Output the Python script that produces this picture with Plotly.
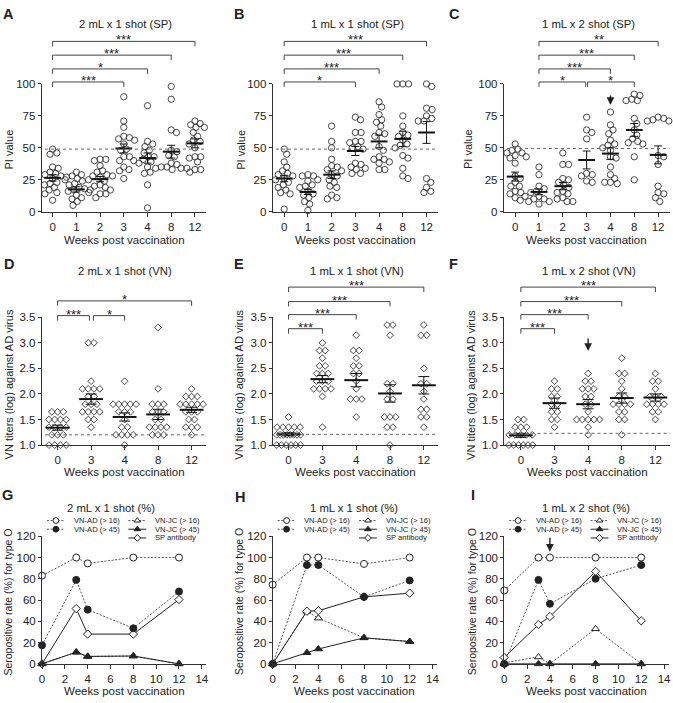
import math
import plotly.graph_objects as go

W, H = 673, 703
FONT = "Liberation Sans, Arial, Helvetica, sans-serif"
INK = "#222222"
AXIS = "#333333"

# ---------------------------------------------------------------- data
SP_WEEK_LABELS = ["0", "1", "2", "3", "4", "8", "12"]
VN_WEEK_LABELS = ["0", "3", "4", "8", "12"]
LINE_WEEKS = [0, 3, 4, 8, 12]

# Panel A: 2 mL x 1 shot (SP), PI values per week
A_W0 = [49, 46, 45, 35, 34, 31, 30, 29, 28, 27, 26, 25, 23, 22, 21, 19, 17, 15, 14, 9]
A_W1 = [31, 29, 28, 27, 26, 24, 22, 21, 19, 18, 17, 16, 15, 13, 11, 10, 8, 5]
A_W2 = [41, 41, 40, 36, 32, 31, 29, 28, 28, 27, 25, 24, 21, 20, 19, 17, 17, 14, 14, 11]
A_W3 = [90, 71, 66, 59, 58, 57, 56, 53, 49, 48, 43, 43, 40, 40, 35, 33, 32, 26]
A_W4 = [83, 55, 53, 51, 48, 46, 43, 43, 41, 39, 38, 35, 31, 30, 21, 3]
A_W8 = [98, 88, 64, 62, 48, 47, 44, 43, 38, 37, 35, 35, 34, 34, 34, 33]
A_W12 = [71, 69, 68, 66, 66, 62, 59, 56, 55, 53, 50, 43, 43, 42, 39, 33, 33, 31]
A_MEAN = [26.5, 17.5, 25.5, 49.5, 42, 47, 53.5]
A_SEM = [2.5, 2, 2, 3.5, 4, 5, 3.5]

# Panel B: 1 mL x 1 shot (SP)
B_W0 = [49, 45, 39, 35, 32, 30, 29, 28, 26, 25, 23, 21, 19, 17, 15, 14, 2]
B_W1 = [29, 28, 28, 25, 24, 21, 20, 19, 16, 14, 13, 11, 8, 6, 1]
B_W2 = [67, 55, 50, 41, 36, 35, 33, 32, 29, 28, 25, 23, 20, 19, 13, 11, 10]
B_W3 = [74, 72, 62, 62, 55, 55, 54, 51, 50, 49, 38, 37, 35, 34, 33, 30, 30]
B_W4 = [86, 82, 76, 72, 70, 67, 62, 61, 59, 51, 48, 43, 41, 41, 39, 38, 33, 33]
B_W8 = [100, 100, 100, 75, 67, 62, 60, 59, 56, 53, 52, 50, 44, 42, 34, 28, 26]
B_W12 = [100, 98, 81, 80, 75, 73, 71, 71, 26, 23, 19, 16, 15]
B_MEAN = [26, 15.5, 29, 47.5, 55, 57, 62]
B_SEM = [2.5, 2, 3, 3.5, 5, 6, 8.5]

# Panel C: 1 mL x 2 shot (SP)
C_W0 = [53, 49, 48, 46, 46, 44, 43, 42, 38, 28, 26, 23, 20, 20, 16, 15, 14, 12, 11, 9]
C_W1 = [35, 29, 20, 18, 16, 15, 12, 10, 10, 8, 8, 6]
C_W2 = [46, 37, 37, 26, 25, 23, 21, 19, 16, 15, 14, 11, 10, 8, 8]
C_W3 = [74, 64, 62, 57, 30, 29, 28, 24, 23]
C_W4 = [78, 68, 64, 61, 56, 53, 52, 50, 48, 43, 42, 35, 29, 26, 23, 23, 22]
C_W8 = [92, 91, 88, 87, 87, 73, 69, 64, 60, 57, 55, 54, 53, 43, 25]
C_W12 = [74, 73, 72, 71, 71, 44, 43, 37, 20, 15, 14, 11, 8]
C_MEAN = [27.5, 15.5, 20, 40.5, 45.5, 64, 44.5]
C_SEM = [3.5, 2.2, 2.8, 7, 4.5, 5, 7]

# Panel D: 2 mL x 1 shot (VN), log titers
D_W0 = [1.65, 1.65, 1.65, 1.5, 1.5, 1.5, 1.5, 1.35, 1.35, 1.35, 1.35, 1.2, 1.2, 1.2, 1.0, 1.0, 1.0, 1.0]
D_W3 = [3.0, 3.0, 2.25, 2.1, 2.1, 2.1, 2.1, 1.95, 1.95, 1.8, 1.8, 1.8, 1.65, 1.65, 1.65, 1.65, 1.5, 1.5, 1.35]
D_W4 = [2.25, 1.8, 1.8, 1.8, 1.8, 1.8, 1.65, 1.65, 1.65, 1.5, 1.35, 1.35, 1.2, 1.2, 1.2, 1.2, 1.0]
D_W8 = [3.3, 2.1, 1.8, 1.8, 1.8, 1.65, 1.65, 1.65, 1.5, 1.5, 1.35, 1.35, 1.35, 1.35, 1.2, 1.2, 1.2]
D_W12 = [2.1, 1.95, 1.95, 1.95, 1.8, 1.8, 1.8, 1.8, 1.8, 1.65, 1.65, 1.65, 1.5, 1.5, 1.35, 1.35, 1.35, 1.2]
D_MEAN = [1.34, 1.9, 1.55, 1.6, 1.69]
D_SEM = [0.05, 0.1, 0.08, 0.1, 0.05]

# Panel E: 1 mL x 1 shot (VN)
E_W0 = [1.55, 1.35, 1.35, 1.35, 1.35, 1.35, 1.2, 1.2, 1.2, 1.2, 1.2, 1.2, 1.2, 1.2, 1.0, 1.0, 1.0, 1.0, 1.0, 1.0]
E_W3 = [3.0, 2.85, 2.85, 2.7, 2.55, 2.55, 2.4, 2.4, 2.4, 2.25, 2.25, 2.25, 2.1, 2.1, 2.1, 2.1, 1.95, 1.35]
E_W4 = [3.15, 2.85, 2.85, 2.7, 2.55, 2.55, 2.4, 2.4, 2.25, 2.1, 1.9, 1.9, 1.9, 1.55]
E_W8 = [3.35, 3.35, 3.15, 2.2, 2.2, 2.05, 1.9, 1.9, 1.55, 1.55, 1.55, 1.35, 1.35, 1.0]
E_W12 = [3.35, 3.15, 3.15, 2.5, 2.2, 2.2, 2.05, 1.9, 1.7, 1.7, 1.55, 1.55, 1.35]
E_MEAN = [1.21, 2.29, 2.27, 2.01, 2.17]
E_SEM = [0.03, 0.07, 0.13, 0.17, 0.17]

# Panel F: 1 mL x 2 shot (VN)
F_W0 = [1.5, 1.5, 1.35, 1.35, 1.35, 1.2, 1.2, 1.2, 1.2, 1.2, 1.0, 1.0, 1.0, 1.0, 1.0, 1.0]
F_W3 = [2.25, 2.1, 2.1, 1.95, 1.95, 1.8, 1.8, 1.65, 1.65, 1.5, 1.5, 1.35]
F_W4 = [2.4, 2.25, 2.25, 2.1, 2.1, 2.1, 1.95, 1.95, 1.8, 1.8, 1.65, 1.5, 1.5, 1.5, 1.5, 1.5, 1.35, 1.2]
F_W8 = [2.7, 2.4, 2.4, 2.25, 2.1, 1.95, 1.95, 1.8, 1.8, 1.8, 1.8, 1.65, 1.65, 1.5, 1.5, 1.2]
F_W12 = [2.4, 2.25, 2.25, 2.1, 1.95, 1.95, 1.95, 1.8, 1.8, 1.8, 1.8, 1.65, 1.65, 1.5]
F_MEAN = [1.19, 1.82, 1.8, 1.92, 1.93]
F_SEM = [0.04, 0.1, 0.09, 0.1, 0.07]

# Panels G-I: seropositive rate (%) for type O
G_AD16 = [83, 100, 94.5, 100, 100]
G_AD45 = [17.5, 79, 51, 33.5, 68]
G_JC16 = [0, 11, 7, 7.4, 0]
G_JC45 = [0, 11, 7, 7.4, 0]
G_SP = [0, 52, 28, 28, 60.5]

H_AD16 = [74.5, 100, 100, 94, 100]
H_AD45 = [0, 93, 93, 63, 78.5]
H_JC16 = [0, 49.5, 43, 24.5, 21]
H_JC45 = [0, 10.5, 14, 24.5, 21]
H_SP = [0, 49.5, 50, 63, 66.5]

I_AD16 = [69, 100, 100, 100, 100]
I_AD45 = [0, 79, 56.5, 80, 93]
I_JC16 = [1, 6.5, 0, 33, 0]
I_JC45 = [0, 0, 0, 0, 0]
I_SP = [6, 37, 44.5, 87, 40.5]

SERIES_NAMES = {"AD16": "VN-AD (> 16)", "AD45": "VN-AD (> 45)",
                "JC16": "VN-JC (> 16)", "JC45": "VN-JC (> 45)",
                "SP": "SP antibody"}

# ---------------------------------------------------------------- geometry / style
def px_x(px):
    return px / W


def px_y(py):
    return 1 - py / H


PANELS = [
    dict(letter="A", kind="sp", title="2 mL x 1 shot (SP)",
         groups=[A_W0, A_W1, A_W2, A_W3, A_W4, A_W8, A_W12], mean=A_MEAN, sem=A_SEM,
         xpx=(39, 205), ypx=(79.3, 209.3), xr=(-0.46, 6.485), yr=(0, 100),
         title_at=(123, 18), letter_at=(6, 8), ytitle_at=(6, 146), xtitle_y=238,
         thr=49, brackets=[(0, 3, 77.3, "***"), (0, 4, 64, "*"), (0, 5, 50, "***"), (0, 6, 36, "***")],
         arrow=None),
    dict(letter="B", kind="sp", title="1 mL x 1 shot (SP)",
         groups=[B_W0, B_W1, B_W2, B_W3, B_W4, B_W8, B_W12], mean=B_MEAN, sem=B_SEM,
         xpx=(271.7, 438), xr=(-0.485, 6.473), yr=(0, 100), ypx=(79.3, 209.3),
         title_at=(356.7, 18), letter_at=(238, 8), ytitle_at=(239, 146), xtitle_y=238,
         thr=49, brackets=[(0, 3, 77.3, "*"), (0, 4, 64, "***"), (0, 5, 50, "***"), (0, 6, 36, "***")],
         arrow=None),
    dict(letter="C", kind="sp", title="1 mL x 2 shot (SP)",
         groups=[C_W0, C_W1, C_W2, C_W3, C_W4, C_W8, C_W12], mean=C_MEAN, sem=C_SEM,
         xpx=(504.5, 671.5), xr=(-0.479, 6.479), yr=(0, 100), ypx=(79.3, 209.3),
         title_at=(590, 18), letter_at=(455, 8), ytitle_at=(468, 146), xtitle_y=238,
         thr=49.5, brackets=[(1, 2.96, 77.3, "*"), (3.04, 5, 77.3, "*"), (1, 4, 64, "***"),
                             (1, 5, 50, "***"), (1, 6, 36, "**")],
         arrow=(4, 83.5, 11)),
    dict(letter="D", kind="vn", title="2 mL x 1 shot (VN)",
         groups=[D_W0, D_W3, D_W4, D_W8, D_W12], mean=D_MEAN, sem=D_SEM,
         xpx=(39, 205), ypx=(316.7, 446.7), xr=(-0.474, 4.444), yr=(1, 3.5),
         title_at=(123, 270), letter_at=(6, 262), ytitle_at=(6, 385), xtitle_y=474,
         thr=1.2, brackets=[(0, 0.95, 315, "***"), (1.07, 2, 315, "*"), (0, 4, 300, "*")],
         arrow=None),
    dict(letter="E", kind="vn", title="1 mL x 1 shot (VN)",
         groups=[E_W0, E_W3, E_W4, E_W8, E_W12], mean=E_MEAN, sem=E_SEM,
         xpx=(271.7, 438.3), ypx=(316.7, 446.7), xr=(-0.47, 4.42), yr=(1, 3.5),
         title_at=(356.7, 270), letter_at=(238, 262), ytitle_at=(238, 385), xtitle_y=474,
         thr=1.21, brackets=[(0, 1, 328.3, "***"), (0, 2, 314, "***"), (0, 3, 300.7, "***"), (0, 4, 286, "***")],
         arrow=None),
    dict(letter="F", kind="vn", title="1 mL x 2 shot (VN)",
         groups=[F_W0, F_W3, F_W4, F_W8, F_W12], mean=F_MEAN, sem=F_SEM,
         xpx=(505, 672), ypx=(316.7, 446.7), xr=(-0.493, 4.434), yr=(1, 3.5),
         title_at=(590, 270), letter_at=(454, 262), ytitle_at=(472, 385), xtitle_y=474,
         thr=1.23, brackets=[(0, 1, 328.3, "***"), (0, 2, 314, "***"), (0, 3, 300.7, "***"), (0, 4, 286, "***")],
         arrow=(2, 2.84, 14)),
    dict(letter="G", kind="line", title="2 mL x 1 shot (%)",
         series=dict(AD16=G_AD16, AD45=G_AD45, JC16=G_JC16, JC45=G_JC45, SP=G_SP),
         xpx=(39.3, 204.9), ypx=(539.5, 669.3), xr=(0, 14.4), yr=(0, 120),
         title_at=(109, 510.5), letter_at=(5, 497), ytitle_at=(5, 606), xtitle_y=697,
         arrow=None),
    dict(letter="H", kind="line", title="1 mL x 1 shot (%)",
         series=dict(AD16=H_AD16, AD45=H_AD45, JC16=H_JC16, JC45=H_JC45, SP=H_SP),
         xpx=(271.7, 437.3), ypx=(539.5, 669.3), xr=(0, 14.4), yr=(0, 120),
         title_at=(354, 510.7), letter_at=(239, 500), ytitle_at=(237, 606), xtitle_y=697,
         arrow=None),
    dict(letter="I", kind="line", title="1 mL x 2 shot (%)",
         series=dict(AD16=I_AD16, AD45=I_AD45, JC16=I_JC16, JC45=I_JC45, SP=I_SP),
         xpx=(505, 670.6), ypx=(539.5, 669.3), xr=(0, 14.4), yr=(0, 120),
         title_at=(587, 510.7), letter_at=(474, 498), ytitle_at=(472, 606), xtitle_y=697,
         arrow=(4, 105.5, 15.5)),
]

YTITLES = {"sp": "PI value", "vn": "VN titers (log) against AD virus",
           "line": "Seropositive rate (%) for type O"}

LINE_STYLE = {
    "AD16": dict(symbol="circle", fill="white", dash="2px,1.6px", lc="#555555", size=7),
    "AD45": dict(symbol="circle", fill=INK, dash="2px,1.6px", lc="#555555", size=7),
    "JC16": dict(symbol="triangle-up", fill="white", dash="2px,1.6px", lc="#555555", size=7),
    "JC45": dict(symbol="triangle-up", fill=INK, dash="solid", lc=INK, size=7),
    "SP": dict(symbol="diamond", fill="white", dash="solid", lc=INK, size=6.4),
}
DRAW_ORDER = ["JC16", "AD16", "SP", "AD45", "JC45"]
LEGEND_POS = {"AD16": (0, 0), "AD45": (0, 1), "JC16": (1, 0), "JC45": (1, 1), "SP": (1, 2)}
LEGEND_ROWS_PX = (523.5, 532.3, 541.2)
LEGEND_COLS_OFF = (14, 96)


def swarm_offsets(vals, yppu, d):
    """Deterministic beeswarm: pixel x offsets so markers do not overlap."""
    offs = [0.0] * len(vals)
    placed = []
    order = sorted(range(len(vals)), key=lambda i: -vals[i])
    for i in order:
        y = vals[i] * yppu
        cands = [0.0]
        for (ox, oy) in placed:
            dy = abs(y - oy)
            if dy < d:
                dx = math.sqrt(d * d - dy * dy)
                cands += [ox + dx, ox - dx]
        cands.sort(key=lambda c: (round(abs(c), 3), -c))
        for c in cands:
            if all((c - ox) ** 2 + (y - oy) ** 2 >= d * d - 1e-6 for ox, oy in placed):
                offs[i] = c
                break
        placed.append((offs[i], y))
    return offs


def row_offsets(vals, gap, maxw):
    groups = {}
    for i, v in enumerate(vals):
        groups.setdefault(round(v, 3), []).append(i)
    offs = [0.0] * len(vals)
    for idxs in groups.values():
        n = len(idxs)
        s = gap if n < 2 else min(gap, maxw / (n - 1))
        for k, i in enumerate(idxs):
            offs[i] = (k - (n - 1) / 2) * s
    return offs


fig = go.Figure()
layout = {}
shapes = []
annots = []


def text_ann(x, y, text, size=11, bold=False, xanchor="center", yanchor="middle", angle=0):
    annots.append(dict(x=px_x(x), y=px_y(y), xref="paper", yref="paper", text=text,
                       showarrow=False, xanchor=xanchor, yanchor=yanchor, textangle=angle,
                       font=dict(family=FONT, size=size, color=INK,
                                 weight="bold" if bold else "normal")))


for n, p in enumerate(PANELS, start=1):
    xa = "x" if n == 1 else "x%d" % n
    ya = "y" if n == 1 else "y%d" % n
    xdom = [px_x(p["xpx"][0]), px_x(p["xpx"][1])]
    ydom = [px_y(p["ypx"][1]), px_y(p["ypx"][0])]
    xppu = (p["xpx"][1] - p["xpx"][0]) / (p["xr"][1] - p["xr"][0])
    yppu = (p["ypx"][1] - p["ypx"][0]) / (p["yr"][1] - p["yr"][0])
    common = dict(showline=True, linecolor=AXIS, linewidth=1, ticks="outside", tickcolor=AXIS,
                  tickwidth=1, showgrid=False, zeroline=False, fixedrange=True,
                  tickfont=dict(family=FONT, size=11.5, color=INK))
    xax = dict(common, domain=xdom, range=list(p["xr"]), anchor=ya, ticklen=4)
    yax = dict(common, domain=ydom, range=list(p["yr"]), anchor=xa, ticklen=3)

    if p["kind"] in ("sp", "vn"):
        labels = SP_WEEK_LABELS if p["kind"] == "sp" else VN_WEEK_LABELS
        xax.update(tickmode="array", tickvals=list(range(len(labels))), ticktext=labels)
        if p["kind"] == "sp":
            yax.update(tickmode="array", tickvals=[0, 25, 50, 75, 100])
            sym, msize = "circle-open", 6.3
        else:
            yax.update(tickmode="linear", tick0=1, dtick=0.5, tickformat=".1f")
            sym, msize = "diamond-open", 5.2
        for gi, vals in enumerate(p["groups"]):
            if p["kind"] == "sp":
                offs = swarm_offsets(vals, yppu, 5.8)
            else:
                offs = row_offsets(vals, 5.8, 24)
            fig.add_trace(go.Scatter(
                x=[gi + o / xppu for o in offs], y=vals, xaxis=xa, yaxis=ya, mode="markers",
                cliponaxis=False, hoverinfo="skip",
                marker=dict(symbol=sym, size=msize, color="#333333", line=dict(width=0.9, color="#333333"))))
        fig.add_trace(go.Scatter(
            x=list(range(len(p["mean"]))), y=p["mean"], xaxis=xa, yaxis=ya, mode="markers",
            cliponaxis=False, hoverinfo="skip",
            error_y=dict(type="data", array=p["sem"], visible=True, thickness=1,
                         width=4 if p["kind"] == "sp" else 5.5, color="#111111"),
            marker=dict(symbol="line-ew", size=12 if p["kind"] == "sp" else 17,
                        color="#111111", line=dict(width=2, color="#111111"))))
        # threshold dotted line
        shapes.append(dict(type="line", xref=xa + " domain", yref=ya, x0=0.02, x1=1,
                           y0=p["thr"], y1=p["thr"], line=dict(color="#666666", width=1, dash="dot")))
        # significance brackets
        for (i0, i1, ypix, stars) in p["brackets"]:
            yl, yleg = px_y(ypix), px_y(ypix + 5)
            shapes.append(dict(type="path", xref=xa, yref="paper",
                               path="M %g,%g L %g,%g L %g,%g L %g,%g" % (i0, yleg, i0, yl, i1, yl, i1, yleg),
                               line=dict(color="#444444", width=1)))
            annots.append(dict(x=(i0 + i1) / 2, y=px_y(ypix - 1.5), xref=xa, yref="paper", text=stars,
                               showarrow=False, xanchor="center", yanchor="middle",
                               font=dict(family=FONT, size=13, color=INK)))
    else:
        xax.update(tickmode="linear", tick0=0, dtick=2)
        yax.update(tickmode="linear", tick0=0, dtick=20)
        for key in DRAW_ORDER:
            st = LINE_STYLE[key]
            fig.add_trace(go.Scatter(
                x=LINE_WEEKS, y=p["series"][key], xaxis=xa, yaxis=ya, mode="lines+markers",
                cliponaxis=False, hoverinfo="skip", name=SERIES_NAMES[key],
                line=dict(color=st["lc"], width=1, dash=st["dash"]),
                marker=dict(symbol=st["symbol"], size=st["size"], color=st["fill"],
                            line=dict(width=1, color=INK))))

    if p["arrow"] is not None:
        ax_x, ax_y, alen = p["arrow"]
        annots.append(dict(x=ax_x, y=ax_y, xref=xa, yref=ya, ax=0, ay=-alen, axref="pixel",
                           ayref="pixel", text="", showarrow=True, arrowhead=2, arrowsize=1.1,
                           arrowwidth=1.4, arrowcolor=INK, standoff=0))

    layout["xaxis" if n == 1 else "xaxis%d" % n] = xax
    layout["yaxis" if n == 1 else "yaxis%d" % n] = yax

    # texts
    text_ann(p["title_at"][0], p["title_at"][1], p["title"], size=11.3)
    text_ann(p["letter_at"][0], p["letter_at"][1], p["letter"], size=14.5, bold=True)
    text_ann(p["ytitle_at"][0], p["ytitle_at"][1], YTITLES[p["kind"]],
             size=10.5 if p["kind"] == "line" else 11, angle=-90)
    text_ann((p["xpx"][0] + p["xpx"][1]) / 2, p["xtitle_y"], "Weeks post vaccination", size=11.5)

# legend for the seropositive-rate panels, drawn on a full-figure pixel canvas axis
CANVAS = len(PANELS) + 1
cx, cy = "x%d" % CANVAS, "y%d" % CANVAS
layout["xaxis%d" % CANVAS] = dict(domain=[0, 1], range=[0, W], anchor=cy, visible=False, fixedrange=True)
layout["yaxis%d" % CANVAS] = dict(domain=[0, 1], range=[H, 0], anchor=cx, visible=False, fixedrange=True)
for p in PANELS:
    if p["kind"] != "line":
        continue
    x0 = p["xpx"][0]
    for key in DRAW_ORDER:
        st = LINE_STYLE[key]
        col, row = LEGEND_POS[key]
        mx = x0 + LEGEND_COLS_OFF[col]
        my = LEGEND_ROWS_PX[row]
        fig.add_trace(go.Scatter(
            x=[mx - 9, mx + 9], y=[my, my], xaxis=cx, yaxis=cy, mode="lines", hoverinfo="skip",
            line=dict(color=st["lc"], width=1, dash=st["dash"])))
        fig.add_trace(go.Scatter(
            x=[mx], y=[my], xaxis=cx, yaxis=cy, mode="markers", hoverinfo="skip",
            marker=dict(symbol=st["symbol"], size=st["size"] - 1.2, color=st["fill"],
                        line=dict(width=1, color=INK))))
        annots.append(dict(x=px_x(mx + 16), y=px_y(my), xref="paper", yref="paper",
                           text=SERIES_NAMES[key], showarrow=False, xanchor="left", yanchor="middle",
                           font=dict(family=FONT, size=7.6, color=INK)))

fig.update_layout(
    width=W, height=H, margin=dict(l=0, r=0, t=0, b=0),
    paper_bgcolor="white", plot_bgcolor="rgba(0,0,0,0)",
    showlegend=False, font=dict(family=FONT, color=INK),
    shapes=shapes, annotations=annots, **layout)

fig.write_html("out.html", config={"displayModeBar": False, "staticPlot": True},
               post_script="document.body.style.margin='0';document.body.style.padding='0';"
                           "document.documentElement.style.margin='0';")
